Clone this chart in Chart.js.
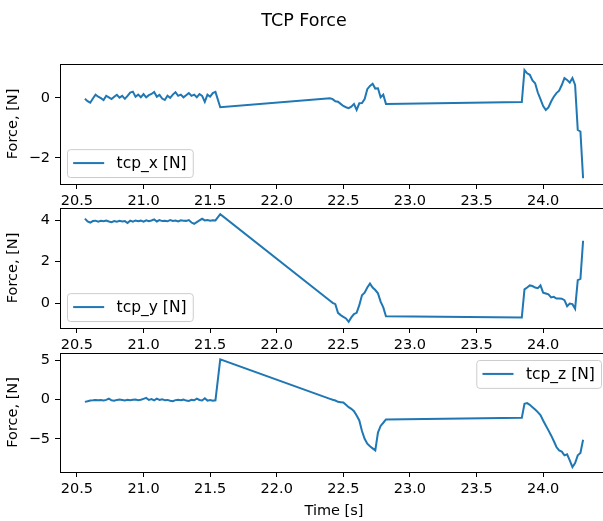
<!DOCTYPE html>
<html>
<head>
<meta charset="utf-8">
<title>TCP Force</title>
<script src="https://cdn.jsdelivr.net/npm/chart.js@4.4.1/dist/chart.umd.min.js"></script>
<style>
  html, body { margin: 0; padding: 0; background: #fff; }
  #fig { position: relative; width: 603px; height: 521px; overflow: hidden; background: #fff; }
  #fig canvas { position: absolute; left: 0; }
</style>
</head>
<body>
<div id="fig">
  <canvas id="axX" width="650" height="224" style="top:0px"></canvas>
  <canvas id="axY" width="650" height="180" style="top:188px"></canvas>
  <canvas id="axZ" width="650" height="188" style="top:333px"></canvas>
</div>
<script>
// sample times [s], shared by all three force channels
const timeS = [
  20.56, 20.58, 20.60, 20.62, 20.64, 20.66, 20.68, 20.70, 20.72, 20.74,
  20.76, 20.78, 20.80, 20.82, 20.84, 20.86, 20.88, 20.90, 20.92, 20.94,
  20.96, 20.98, 21.00, 21.02, 21.04, 21.06, 21.08, 21.10, 21.12, 21.14,
  21.16, 21.18, 21.20, 21.22, 21.24, 21.26, 21.28, 21.30, 21.32, 21.34,
  21.36, 21.38, 21.40, 21.42, 21.44, 21.46, 21.48, 21.50, 21.52, 21.54,
  21.576,
  22.40, 22.42, 22.44, 22.46, 22.48, 22.50, 22.52, 22.54, 22.56, 22.58,
  22.60, 22.62, 22.64, 22.66, 22.68, 22.70, 22.72, 22.74, 22.76, 22.78,
  22.80, 22.82,
  23.84, 23.86, 23.88, 23.90, 23.92, 23.94, 23.96, 23.98, 24.00, 24.02,
  24.04, 24.06, 24.08, 24.10, 24.12, 24.14, 24.16, 24.18, 24.20, 24.22,
  24.24, 24.26, 24.28, 24.30
];

const tcpX = [
  -0.03, -0.11, -0.16, -0.02, 0.11, 0.04, -0.01, -0.07, 0.07, 0.02,
  -0.04, 0.04, 0.10, 0.01, 0.07, -0.03, 0.07, 0.18, 0.21, 0.04,
  0.11, 0.02, 0.13, 0.02, 0.09, 0.13, 0.20, 0.04, 0.10, -0.02,
  -0.07, 0.07, 0.00, 0.11, 0.19, 0.07, 0.11, 0.02, 0.09, 0.16,
  0.07, 0.11, 0.02, 0.13, 0.07, -0.13, 0.11, 0.04, 0.16, 0.20,
  -0.31,
  -0.01, -0.04, -0.11, -0.13, -0.20, -0.27, -0.31, -0.34, -0.29, -0.20,
  -0.40, -0.18, -0.17, -0.04, 0.29, 0.40, 0.47, 0.31, 0.32, 0.02,
  0.11, -0.20,
  -0.14, 0.93, 0.82, 0.77, 0.58, 0.49, 0.18, -0.04, -0.27, -0.40,
  -0.32, -0.12, 0.04, 0.16, 0.24, 0.43, 0.66, 0.60, 0.51, 0.66,
  0.43, -1.07, -1.12, -2.68
];

const tcpY = [
  4.07, 3.93, 3.88, 3.95, 3.97, 3.92, 3.96, 3.94, 3.98, 3.93,
  3.90, 3.95, 3.92, 3.96, 3.93, 3.95, 3.86, 3.97, 3.92, 3.98,
  3.94, 3.97, 3.92, 3.99, 3.94, 3.98, 4.03, 3.93, 4.00, 3.95,
  3.97, 3.94, 4.00, 3.96, 3.98, 3.93, 3.99, 3.97, 3.96, 4.00,
  3.88, 3.82, 3.90, 3.98, 4.06, 3.98, 4.00, 3.97, 3.99, 3.98,
  4.28,
  0.11, 0.01, -0.05, -0.47, -0.58, -0.66, -0.74, -0.90, -0.69, -0.53,
  -0.47, -0.10, 0.38, 0.50, 0.75, 0.94, 0.75, 0.63, 0.47, 0.07,
  -0.21, -0.64,
  -0.69, 0.66, 0.75, 0.85, 0.82, 0.75, 0.72, 0.85, 0.50, 0.46,
  0.42, 0.27, 0.30, 0.22, 0.22, 0.21, 0.14, -0.15, -0.02, -0.05,
  -0.27, 1.11, 1.17, 3.00
];

const tcpZ = [
  -0.30, -0.22, -0.12, -0.10, -0.06, -0.10, -0.08, -0.12, -0.05, 0.12,
  -0.10, -0.15, -0.05, 0.00, -0.06, -0.12, -0.04, -0.10, -0.02, 0.00,
  -0.08, -0.04, 0.08, 0.20, -0.06, 0.06, -0.12, 0.10, -0.05, 0.04,
  -0.08, -0.05, -0.15, -0.22, -0.08, -0.04, -0.10, -0.02, -0.14, -0.18,
  -0.05, -0.10, 0.12, -0.06, -0.12, 0.15, -0.14, -0.06, -0.15, -0.10,
  5.10,
  0.08, -0.04, -0.13, -0.30, -0.34, -0.38, -0.68, -0.97, -1.18, -1.48,
  -2.03, -2.66, -4.00, -4.98, -5.60, -5.94, -6.20, -6.46, -4.20, -3.35,
  -2.95, -2.53,
  -2.32, -0.55, -0.46, -0.68, -0.97, -1.27, -1.60, -1.98, -2.66, -3.29,
  -3.92, -4.56, -5.27, -6.03, -6.46, -6.62, -7.09, -6.96, -7.72, -8.57,
  -8.06, -7.09, -6.79, -5.10
];

const timeTicks = [20.5, 21.0, 21.5, 22.0, 22.5, 23.0, 23.5, 24.0];
const xForceTicks = [-2, 0];
const yForceTicks = [0, 2, 4];
const zForceTicks = [-5, 0, 5];

const LINE_BLUE = '#1f77b4';
const FONT_FAMILY = '"DejaVu Sans", sans-serif';
const TICK_FONT = { family: FONT_FAMILY, size: 14.5 };

Chart.defaults.font.family = FONT_FAMILY;
Chart.defaults.color = '#000';

// matplotlib style box around the plot area
const axesFrame = {
  id: 'axesFrame',
  afterDraw(chart) {
    const { ctx, chartArea: a } = chart;
    ctx.save();
    ctx.strokeStyle = '#000';
    ctx.lineWidth = 1;
    ctx.strokeRect(Math.floor(a.left) + 0.5, Math.floor(a.top) + 0.5,
      Math.round(a.right - a.left), Math.round(a.bottom - a.top));
    ctx.restore();
  }
};

// legend drawn inside the axes, like loc='best' in matplotlib
const boxLegend = {
  id: 'boxLegend',
  afterDatasetsDraw(chart, args, opts) {
    const { ctx, chartArea: a } = chart;
    const ds = chart.data.datasets[0];
    const fs = opts.fontSize || 15.5;
    ctx.save();
    ctx.font = fs + 'px ' + FONT_FAMILY;
    const tw = ctx.measureText(ds.label).width;
    const pad = 0.4 * fs, handle = 2 * fs, gap = 0.8 * fs;
    const w = pad + handle + gap + tw + pad;
    const h = 1.8 * fs;
    const inset = 0.45 * fs;
    const x = opts.corner === 'upperRight' ? a.right - inset - w : a.left + inset;
    const y = opts.corner === 'upperRight' ? a.top + inset : a.bottom - inset - h;
    ctx.beginPath();
    ctx.roundRect(x + 0.5, y + 0.5, w, h, 0.2 * fs);
    ctx.fillStyle = 'rgba(255,255,255,0.8)';
    ctx.fill();
    ctx.strokeStyle = '#cccccc';
    ctx.lineWidth = 1;
    ctx.stroke();
    ctx.beginPath();
    ctx.moveTo(x + pad, y + h / 2);
    ctx.lineTo(x + pad + handle, y + h / 2);
    ctx.strokeStyle = ds.borderColor;
    ctx.lineWidth = 2;
    ctx.stroke();
    ctx.fillStyle = '#000';
    ctx.textBaseline = 'middle';
    ctx.fillText(ds.label, x + pad + handle + gap, y + h / 2 + 1);
    ctx.restore();
  }
};

function makePanel(canvasId, label, values, yMin, yMax, yTicks, opts) {
  const canvas = document.getElementById(canvasId);
  const points = timeS.map((t, i) => ({ x: t, y: values[i] }));
  return new Chart(canvas, {
    type: 'line',
    data: {
      datasets: [{
        label: label,
        data: points,
        borderColor: LINE_BLUE,
        borderWidth: 2,
        pointRadius: 0,
        tension: 0,
        fill: false
      }]
    },
    options: {
      responsive: false,
      animation: false,
      events: [],
      layout: { padding: { top: opts.padTop, right: 42, bottom: 0, left: 0 } },
      plugins: {
        legend: { display: false },
        tooltip: { enabled: false },
        title: opts.title ? {
          display: true,
          text: opts.title,
          color: '#000',
          font: { family: FONT_FAMILY, size: 17.5, weight: 'normal' },
          padding: { top: 11, bottom: 32 }
        } : { display: false },
        boxLegend: { corner: opts.legendCorner }
      },
      scales: {
        x: {
          type: 'linear',
          min: 20.373,
          max: 24.487,
          afterBuildTicks: s => { s.ticks = timeTicks.map(v => ({ value: v })); },
          afterFit: s => { s.height = opts.xAxisHeight; },
          border: { display: false },
          grid: { drawOnChartArea: false, drawTicks: true, tickLength: 5, tickColor: '#000', tickWidth: 1 },
          ticks: {
            autoSkip: false, maxRotation: 0, padding: 4, color: '#000', font: TICK_FONT,
            callback: v => v.toFixed(1)
          },
          title: opts.xTitle ? {
            display: true, text: opts.xTitle, color: '#000', font: TICK_FONT,
            padding: { top: 0, bottom: 1 }
          } : { display: false }
        },
        y: {
          type: 'linear',
          min: yMin,
          max: yMax,
          afterBuildTicks: s => { s.ticks = yTicks.map(v => ({ value: v })); },
          afterFit: s => { s.width = 60; },
          border: { display: false },
          grid: { drawOnChartArea: false, drawTicks: true, tickLength: 5, tickColor: '#000', tickWidth: 1 },
          ticks: {
            autoSkip: false, padding: 5, color: '#000', font: TICK_FONT,
            callback: v => String(v).replace('-', '\u2212')
          },
          title: {
            display: true, text: 'Force, [N]', color: '#000', font: TICK_FONT,
            padding: { top: 4.5, bottom: 0 }
          }
        }
      }
    },
    plugins: [axesFrame, boxLegend]
  });
}

makePanel('axX', 'tcp_x [N]', tcpX, -2.87, 1.13, xForceTicks,
  { padTop: 0, xAxisHeight: 40, legendCorner: 'lowerLeft', title: 'TCP Force' });
makePanel('axY', 'tcp_y [N]', tcpY, -1.2, 4.58, yForceTicks,
  { padTop: 20, xAxisHeight: 40, legendCorner: 'lowerLeft' });
makePanel('axZ', 'tcp_z [N]', tcpZ, -9.2, 5.9, zForceTicks,
  { padTop: 20, xAxisHeight: 49, legendCorner: 'upperRight', xTitle: 'Time [s]' });
</script>
</body>
</html>
